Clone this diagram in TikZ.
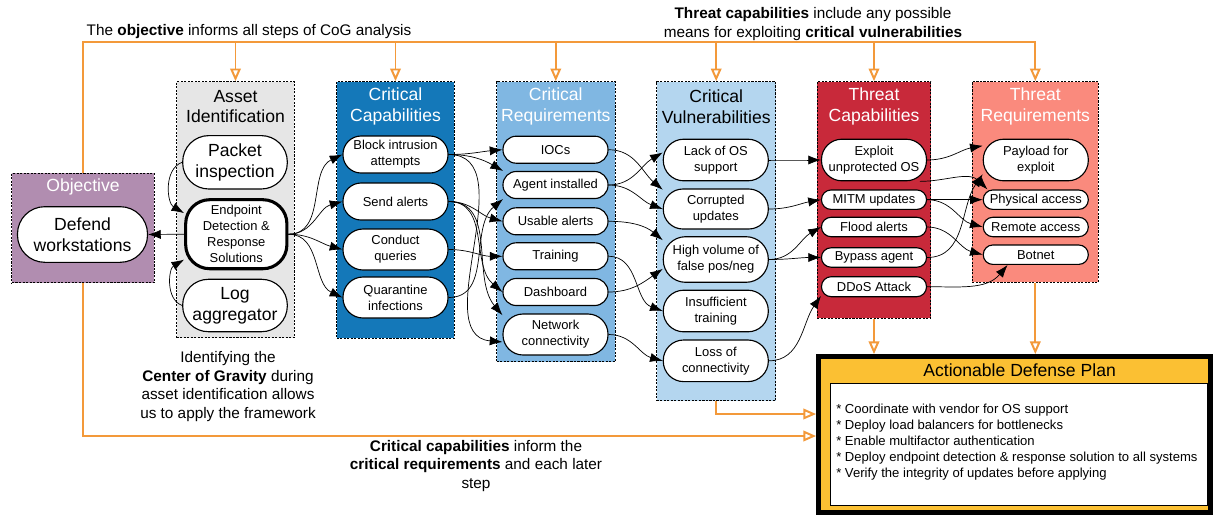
\documentclass[tikz,border=0pt]{standalone}
\usepackage{fontspec}
\setmainfont{Liberation Sans}
\usetikzlibrary{arrows.meta}
\definecolor{objpurple}{RGB}{177,141,176}
\definecolor{assetgray}{RGB}{230,230,230}
\definecolor{capblue}{RGB}{20,120,185}
\definecolor{reqblue}{RGB}{128,183,226}
\definecolor{vulblue}{RGB}{180,214,239}
\definecolor{tcred}{RGB}{200,41,58}
\definecolor{trsalmon}{RGB}{250,138,125}
\definecolor{planyellow}{RGB}{251,192,51}
\definecolor{cogorange}{RGB}{243,153,58}
\begin{document}
\begin{tikzpicture}[x=0.025cm, y=-0.025cm,
  group/.style={draw, dash pattern=on 1.5pt off 1pt, line width=0.7pt, inner sep=0pt},
  title/.style={font=\fontsize{12.5}{14.8}\selectfont, align=center, inner sep=0pt},
  pill/.style={draw, fill=white, line width=0.8pt, inner sep=0pt, align=center, minimum width=2.625cm, minimum height=#1, rounded corners=#1*0.49, font=\fontsize{9.2}{11.4}\selectfont},
  big/.style={pill=#1, font=\fontsize{12.5}{15.2}\selectfont},
  link/.style={-{Latex[length=9pt,width=6.5pt]}, line width=0.5pt},
  flow/.style={cogorange, line width=1.4pt},
  flowarr/.style={flow, -{Triangle[open, length=9pt, width=7.5pt]}},
  note/.style={font=\fontsize{10.9}{13.2}\selectfont, align=center, inner sep=0pt}]
\fill[white] (0,0) rectangle (1213,515);
\useasboundingbox (0,0) rectangle (1213,515);

\node[group, fill=objpurple, minimum width=3.55cm, minimum height=2.735cm] (objbox) at (83,228) {};
\node[title, text=white] (objtitle) at (83,187) {Objective};
\node[big=1.39cm, minimum width=3.25cm] (defend) at (82.5,234.5) {Defend\\workstations};

\node[group, fill=assetgray, minimum width=2.94cm, minimum height=6.4cm] (assetbox) at (235.5,209.7) {};
\node[title] (assettitle) at (235.5,106.5) {Asset\\Identification};
\node[big=1.335cm, minimum width=2.615cm] (packet) at (235,162.3) {Packet\\inspection};
\node[pill=1.725cm, minimum width=2.53cm, line width=2.2pt, rounded corners=0.6cm] (edr) at (236.3,234.2) {Endpoint\\Detection \&\\Response\\Solutions};
\node[big=1.31cm, minimum width=2.615cm] (log) at (235,305.5) {Log\\aggregator};

\node[group, fill=capblue, minimum width=2.94cm, minimum height=6.415cm] (capbox) at (395.5,210) {};
\node[title, text=white] (captitle) at (395.5,106.5) {Critical\\Capabilities};
\node[pill=0.925cm] (block) at (395.5,154.5) {Block intrusion\\attempts};
\node[pill=0.925cm] (send) at (395.5,201.5) {Send alerts};
\node[pill=1.025cm] (conduct) at (395.5,249.5) {Conduct\\queries};
\node[pill=1.025cm] (quarantine) at (395.5,297.5) {Quarantine\\infections};

\node[group, fill=reqblue, minimum width=2.96cm, minimum height=7cm] (reqbox) at (555.8,221.7) {};
\node[title, text=white] (reqtitle) at (555.8,106.5) {Critical\\Requirements};
\node[pill=0.675cm] (iocs) at (555.5,149.7) {IOCs};
\node[pill=0.675cm] (agent) at (555.5,185) {Agent installed};
\node[pill=0.675cm] (usable) at (555.5,221.3) {Usable alerts};
\node[pill=0.675cm] (training) at (555.5,256.3) {Training};
\node[pill=0.675cm] (dashboard) at (555.5,292) {Dashboard};
\node[pill=1.025cm] (network) at (555.5,334.5) {Network\\connectivity};

\node[group, fill=vulblue, minimum width=2.975cm, minimum height=7.98cm] (vulbox) at (716.2,241.3) {};
\node[title] (vultitle) at (716.2,106.5) {Critical\\Vulnerabilities};
\node[pill=1.04cm] (lack) at (715.8,160) {Lack of OS\\support};
\node[pill=1cm] (corrupted) at (715.8,209) {Corrupted\\updates};
\node[pill=1.14cm] (high) at (715.8,259.5) {High volume of\\false pos/neg};
\node[pill=1.04cm] (insufficient) at (715.8,311) {Insufficient\\training};
\node[pill=1.04cm] (loss) at (715.8,360.8) {Loss of\\connectivity};

\node[group, fill=tcred, minimum width=2.835cm, minimum height=5.915cm] (tcbox) at (874,200) {};
\node[title, text=white] (tctitle) at (874,106.5) {Threat\\Capabilities};
\node[pill=1.04cm] (exploit) at (874,160) {Exploit\\unprotected OS};
\node[pill=0.485cm] (mitm) at (874,199.7) {MITM updates};
\node[pill=0.485cm] (flood) at (874,227) {Flood alerts};
\node[pill=0.485cm] (bypass) at (874,257.5) {Bypass agent};
\node[pill=0.5cm] (ddos) at (874,286.7) {DDoS Attack};

\node[group, fill=trsalmon, minimum width=3.15cm, minimum height=5.015cm] (trbox) at (1035.3,182) {};
\node[title, text=white] (trtitle) at (1035.3,106.5) {Threat\\Requirements};
\node[pill=1.04cm] (payload) at (1035.8,160) {Payload for\\exploit};
\node[pill=0.485cm] (physical) at (1035.8,199.7) {Physical access};
\node[pill=0.485cm] (remote) at (1035.8,227) {Remote access};
\node[pill=0.485cm] (botnet) at (1035.8,254.7) {Botnet};

\node[draw, line width=3.4pt, fill=planyellow, minimum width=9.8cm, minimum height=3.9cm, inner sep=0pt] (plan) at (1014.5,434.5) {};
\node[title] (plantitle) at (1019.6,370) {Actionable Defense Plan};
\node[draw, line width=0.5pt, fill=white, minimum width=9.425cm, minimum height=3.04cm, inner sep=0pt] (planbox) at (1018.8,444.3) {};
\node[anchor=west, align=left, inner sep=0pt, font=\fontsize{9.3}{11.5}\selectfont] (plantext) at (836,442) {* Coordinate with vendor for OS support\\* Deploy load balancers for bottlenecks\\* Enable multifactor authentication\\* Deploy endpoint detection \& response solution to all systems\\* Verify the integrity of updates before applying};

\node[note] (objnote) at (249,32) {The \textbf{objective} informs all steps of CoG analysis};
\node[note] (threatnote) at (813,24.2) {\textbf{Threat capabilities} include any possible\\means for exploiting \textbf{critical vulnerabilities}};
\node[note] (cognote) at (228,386.5) {Identifying the\\\textbf{Center of Gravity} during\\asset identification allows\\us to apply the framework};
\node[note] (capnote) at (476,466) {\textbf{Critical capabilities} inform the\\\textbf{critical requirements} and each later\\step};

\coordinate (toprow) at (0,42);
\coordinate (midrow) at (0,414);
\coordinate (lowrow) at (0,436);
\draw[flowarr] (objbox.north) |- (trbox.north |- toprow) -- (trbox.north);
\foreach \b in {assetbox,capbox,reqbox,vulbox,tcbox}
  \draw[flowarr] (\b.north |- toprow) -- (\b.north);
\draw[flowarr] (objbox.south) |- (plan.west |- lowrow);
\draw[flowarr] (vulbox.south) |- (plan.west |- midrow);
\draw[flowarr] (tcbox.south) -- (tcbox.south |- plan.north);
\draw[flowarr] (trbox.south) -- (trbox.south |- plan.north);

\draw[link] (edr.west) -- (defend.east);
\draw[link] (packet.west) to[out=200, in=150] (edr.158);
\draw[link] (log.west) to[out=160, in=210] (edr.206);
\foreach \a/\b/\i in {edr.east/block.west/205, edr.east/send.west/195, edr.east/conduct.west/165, edr.east/quarantine.west/155,
  block.east/iocs.west/185, block.east/agent.165/150, block.east/network.188/175, send.east/usable.west/165,
  send.east/dashboard.west/140, send.east/network.160/130, conduct.east/training.west/180, quarantine.east/agent.195/220,
  iocs.east/corrupted.160/140, agent.east/lack.172/210, agent.east/corrupted.west/160, usable.east/high.160/140,
  training.east/insufficient.west/160, dashboard.east/high.190/215, network.east/loss.west/165,
  lack.east/exploit.west/180, corrupted.east/mitm.west/190, high.east/flood.west/210, high.east/bypass.west/180, loss.east/ddos.190/235,
  exploit.east/payload.165/190, exploit.-25/physical.168/135, mitm.east/physical.west/180, mitm.east/remote.west/165,
  flood.east/botnet.west/165, bypass.east/payload.195/235, ddos.east/botnet.200/230}
  \draw[link] (\a) to[out=0, in=\i] (\b);
\end{tikzpicture}
\end{document}
